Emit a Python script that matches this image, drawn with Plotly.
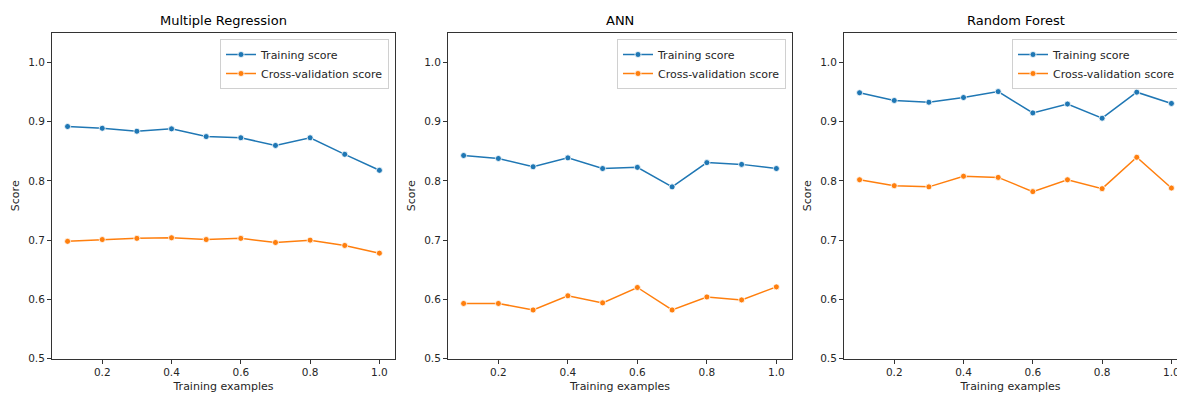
import plotly.graph_objects as go

# ---------------- data ----------------
train_sizes = [0.1, 0.2, 0.3, 0.4, 0.5, 0.6, 0.7, 0.8, 0.9, 1.0]
model_names = ["Multiple Regression", "ANN", "Random Forest"]

mr_train = [0.892, 0.889, 0.884, 0.888, 0.875, 0.873, 0.860, 0.873, 0.845, 0.818]
mr_cv = [0.698, 0.701, 0.703, 0.704, 0.701, 0.703, 0.696, 0.700, 0.691, 0.678]

ann_train = [0.843, 0.838, 0.824, 0.839, 0.821, 0.823, 0.790, 0.831, 0.828, 0.821]
ann_cv = [0.593, 0.593, 0.582, 0.606, 0.594, 0.620, 0.582, 0.604, 0.599, 0.621]

rf_train = [0.949, 0.936, 0.933, 0.941, 0.951, 0.915, 0.930, 0.906, 0.950, 0.931]
rf_cv = [0.802, 0.792, 0.790, 0.808, 0.806, 0.782, 0.802, 0.787, 0.840, 0.788]

series_names = ["Training score", "Cross-validation score"]
x_ticks = [0.2, 0.4, 0.6, 0.8, 1.0]
y_ticks = [0.5, 0.6, 0.7, 0.8, 0.9, 1.0]

# ---------------- layout constants ----------------
W, H = 1177, 394
# the third panel of the original figure runs past the right edge of the picture
panels_px = [(52, 395), (448, 792), (844, 1187)]
top_px, bottom_px = 33, 358.5
y_dom = [(H - bottom_px) / H, (H - top_px) / H]
colors = ["#1f77b4", "#ff7f0e"]
FONT = "DejaVu Sans"
TXT = "#262626"
X_LO, X_HI = 0.055, 1.045

data = [(mr_train, mr_cv), (ann_train, ann_cv), (rf_train, rf_cv)]

fig = go.Figure()
layout = dict(
    template="none",
    width=W, height=H,
    margin=dict(l=0, r=0, t=0, b=0, autoexpand=False),
    paper_bgcolor="white", plot_bgcolor="white",
    font=dict(family=FONT, size=10, color=TXT),
    showlegend=True,
    annotations=[],
)

for i, (name, (tr, cv)) in enumerate(zip(model_names, data)):
    sfx = "" if i == 0 else str(i + 1)
    leg = "legend" if i == 0 else f"legend{i + 1}"
    for j, vals in enumerate((tr, cv)):
        fig.add_trace(go.Scatter(
            x=train_sizes, y=vals, name=series_names[j],
            mode="lines+markers",
            line=dict(color=colors[j], width=1.5),
            marker=dict(color=colors[j], size=6, line=dict(color="white", width=0.8)),
            xaxis=f"x{sfx}", yaxis=f"y{sfx}", legend=leg,
        ))
    l, r = panels_px[i]
    clipped = r > W
    r_vis = min(r, W)
    x_hi = X_LO + (X_HI - X_LO) * (r_vis - l) / (r - l)
    axis_common = dict(
        showline=True, linecolor="#333333", linewidth=1,
        showgrid=False, zeroline=False, ticks="outside", ticklen=4,
        tickwidth=1, tickcolor="#333333", automargin=False,
        ticklabeloverflow="allow",
        tickfont=dict(family=FONT, size=10.5, color=TXT),
    )
    layout[f"xaxis{sfx}"] = dict(
        axis_common, mirror=True, domain=[l / W, r_vis / W], anchor=f"y{sfx}",
        range=[X_LO, x_hi], tickvals=x_ticks, tickformat=".1f",
        title=dict(text="Training examples", font=dict(family=FONT, size=11, color=TXT), standoff=5),
    )
    layout[f"yaxis{sfx}"] = dict(
        axis_common, mirror=(not clipped), domain=y_dom, anchor=f"x{sfx}",
        range=[0.5, 1.05], tickvals=y_ticks, tickformat=".1f",
        title=dict(text="Score", font=dict(family=FONT, size=11, color=TXT), standoff=6),
    )
    layout["annotations"].append(dict(
        text=name, x=(l + r) / 2 / W, y=y_dom[1], xref="paper", yref="paper",
        xanchor="center", yanchor="bottom", yshift=3, showarrow=False,
        font=dict(family=FONT, size=13, color="black"),
    ))
    layout[leg] = dict(
        x=(r - 6) / W, xanchor="right", y=(H - 39) / H, yanchor="top",
        xref="paper", yref="paper",
        bgcolor="white", bordercolor="#d0d0d0", borderwidth=1,
        font=dict(family=FONT, size=11, color=TXT),
        tracegroupgap=0, itemwidth=30,
    )

fig.update_layout(**layout)

post = """
document.documentElement.style.margin='0';
document.documentElement.style.overflow='hidden';
document.body.style.margin='0';
document.body.style.overflow='hidden';
"""
fig.write_html("out.html", config={"displayModeBar": False}, post_script=post)
